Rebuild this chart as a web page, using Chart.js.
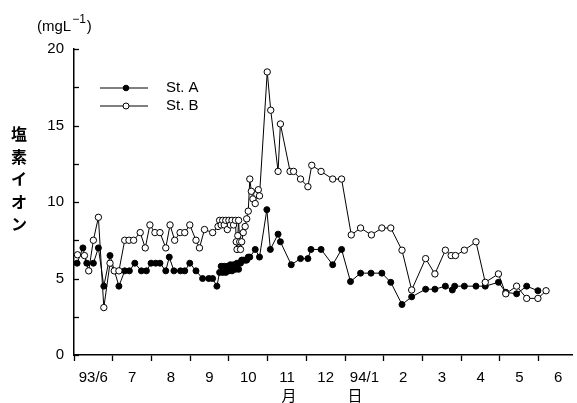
<!DOCTYPE html>
<html>
<head>
<meta charset="utf-8">
<script src="https://cdn.jsdelivr.net/npm/chart.js@4.4.0/dist/chart.umd.min.js"></script>
<style>
  html, body { margin: 0; padding: 0; background: #fff; }
  #wrap { width: 577px; height: 403px; }
</style>
</head>
<body>
<div id="wrap"><canvas id="myChart" width="577" height="403"></canvas></div>
<script>
// month labels, placed in the middle of each month
var monthLabels = ["93/6", "7", "8", "9", "10", "11", "12", "94/1", "2", "3", "4", "5", "6"];

// x = months after 1 June 1993, y = mg/L
var stAx = [0.08, 0.23, 0.33, 0.50, 0.63, 0.77, 0.93, 1.16, 1.31, 1.43, 1.57, 1.74, 1.87, 1.99,
  2.11, 2.22, 2.37, 2.46, 2.58, 2.75, 2.86, 2.99, 3.15, 3.32, 3.48, 3.58, 3.69,
  3.76, 3.80, 3.84, 3.88, 3.92, 3.96, 4.00, 4.04, 4.08, 4.12, 4.17, 4.21, 4.25, 4.30,
  4.33, 4.37, 4.42, 4.46, 4.50, 4.54, 4.68, 4.79, 4.98, 5.07, 5.27, 5.33, 5.61, 5.85,
  6.04, 6.12, 6.38, 6.68, 6.91, 7.14, 7.40, 7.67, 7.95, 8.18, 8.47, 8.72, 9.08, 9.32,
  9.59, 9.77, 9.83, 10.08, 10.38, 10.62, 10.96, 11.15, 11.43, 11.69, 11.98];
var stAy = [6.0, 7.0, 6.0, 6.0, 7.0, 4.5, 6.5, 4.5, 5.5, 5.5, 6.0, 5.5, 5.5, 6.0,
  6.0, 6.0, 5.5, 6.4, 5.5, 5.5, 5.5, 6.0, 5.5, 5.0, 5.0, 5.0, 4.5,
  5.4, 5.8, 5.4, 5.8, 5.4, 5.8, 5.5, 5.9, 5.5, 5.9, 5.6, 6.0, 5.6, 6.0,
  6.2, 6.2, 6.2, 6.2, 6.4, 6.4, 6.9, 6.4, 9.5, 6.9, 7.9, 7.4, 5.9, 6.3,
  6.3, 6.9, 6.9, 5.9, 6.9, 4.8, 5.35, 5.35, 5.35, 4.75, 3.3, 3.8, 4.3, 4.3,
  4.5, 4.25, 4.5, 4.5, 4.5, 4.5, 4.75, 4.1, 4.0, 4.5, 4.2];

var stBx = [0.09, 0.27, 0.38, 0.50, 0.63, 0.77, 0.93, 1.04, 1.16, 1.31, 1.42, 1.54, 1.71, 1.84,
  1.96, 2.09, 2.22, 2.37, 2.48, 2.60, 2.74, 2.86, 2.99, 3.15, 3.24, 3.37, 3.58,
  3.72, 3.76, 3.80, 3.84, 3.88, 3.92, 3.96, 4.00, 4.04, 4.08, 4.12, 4.17, 4.19, 4.21,
  4.23, 4.25, 4.28, 4.30, 4.33, 4.37, 4.42, 4.46, 4.50, 4.54, 4.58, 4.62, 4.68, 4.72,
  4.76, 4.79, 4.99, 5.08, 5.27, 5.33, 5.58, 5.67, 5.85, 6.04, 6.14, 6.38, 6.68, 6.91,
  7.16, 7.40, 7.68, 7.95, 8.18, 8.47, 8.72, 9.08, 9.32, 9.59, 9.74, 9.85, 10.08, 10.38,
  10.62, 10.96, 11.15, 11.43, 11.69, 11.98, 12.19];
var stBy = [6.55, 6.5, 5.5, 7.5, 9.0, 3.1, 6.0, 5.5, 5.5, 7.5, 7.5, 7.5, 8.0, 7.0,
  8.5, 8.0, 8.0, 7.0, 8.5, 7.5, 8.0, 8.0, 8.5, 7.5, 7.0, 8.2, 8.0,
  8.4, 8.8, 8.5, 8.8, 8.5, 8.8, 8.2, 8.8, 8.5, 8.8, 8.5, 8.8, 7.4, 6.9,
  7.8, 8.8, 7.4, 6.9, 7.4, 8.0, 8.4, 8.9, 9.4, 11.5, 10.7, 10.2, 9.9, 10.5,
  10.8, 10.4, 18.5, 16.0, 12.0, 15.1, 12.0, 12.0, 11.5, 11.0, 12.4, 12.0, 11.5, 11.5,
  7.85, 8.3, 7.85, 8.3, 8.3, 6.85, 4.25, 6.3, 5.3, 6.85, 6.5, 6.5, 6.85, 7.4,
  4.75, 5.3, 4.0, 4.5, 3.7, 3.7, 4.2];

function pts(xs, ys) {
  return xs.map(function (x, i) { return {x: x, y: ys[i]}; });
}

var font = "'Liberation Sans', Arial, sans-serif";

// inside y ticks, legend, unit and axis titles
var extras = {
  id: "extras",
  afterDraw: function (chart) {
    var ctx = chart.ctx;
    var xs = chart.scales.x, ys = chart.scales.y;
    ctx.save();
    ctx.strokeStyle = "#000";
    ctx.lineWidth = 1.3;
    for (var v = 0; v <= 20; v += 2.5) {
      var py = Math.round(ys.getPixelForValue(v)) + 0.5;
      ctx.beginPath();
      ctx.moveTo(xs.left, py);
      ctx.lineTo(xs.left + 5, py);
      ctx.stroke();
    }

    // legend
    var rows = [["St. A", "#000", 2.8], ["St. B", "#fff", 3]];
    rows.forEach(function (r, i) {
      var y = 88 + i * 18;
      ctx.lineWidth = 1;
      ctx.beginPath();
      ctx.moveTo(100, y);
      ctx.lineTo(148, y);
      ctx.stroke();
      ctx.beginPath();
      ctx.arc(126, y, r[2], 0, Math.PI * 2);
      ctx.fillStyle = r[1];
      ctx.fill();
      ctx.stroke();
      ctx.fillStyle = "#000";
      ctx.font = "15px " + font;
      ctx.textBaseline = "middle";
      ctx.textAlign = "left";
      ctx.fillText(r[0], 166, y);
    });

    // unit
    ctx.font = "15px " + font;
    ctx.textBaseline = "alphabetic";
    ctx.fillText("(mgL", 37, 31);
    var w = ctx.measureText("(mgL").width;
    ctx.font = "12px " + font;
    ctx.fillText("\u22121", 37 + w + 1, 23);
    var w2 = ctx.measureText("\u22121").width;
    ctx.font = "15px " + font;
    ctx.fillText(")", 37 + w + w2 + 2, 31);

    // vertical y title
    ctx.font = "bold 16px 'Noto Sans CJK JP', sans-serif";
    ctx.textAlign = "center";
    ctx.textBaseline = "middle";
    var chars = ["塩", "素", "イ", "オ", "ン"];
    chars.forEach(function (c, i) {
      ctx.fillText(c, 19, 134 + i * 22.5);
    });

    // x title
    ctx.font = "15px 'Noto Sans CJK JP', sans-serif";
    ctx.fillText("月", 289, 395);
    ctx.fillText("日", 355, 395);
    ctx.restore();
  }
};

new Chart("myChart", {
  type: "line",
  data: {
    datasets: [{
      label: "St. B",
      data: pts(stBx, stBy),
      borderColor: "#000",
      borderWidth: 1,
      pointRadius: 3.2,
      pointBackgroundColor: "#fff",
      pointBorderColor: "#000",
      pointBorderWidth: 1,
      tension: 0
    }, {
      label: "St. A",
      data: pts(stAx, stAy),
      borderColor: "#000",
      borderWidth: 1,
      pointRadius: 3,
      pointBackgroundColor: "#000",
      pointBorderColor: "#000",
      pointBorderWidth: 1,
      tension: 0
    }]
  },
  options: {
    responsive: false,
    animation: false,
    layout: {padding: {top: 49, right: 0, left: 0, bottom: 0}},
    plugins: {legend: {display: false}, tooltip: {enabled: false}},
    scales: {
      x: {
        type: "linear",
        min: 0,
        max: 12.86,
        afterBuildTicks: function (scale) {
          var t = [];
          for (var i = 0; i <= 25; i++) t.push({value: i / 2});
          scale.ticks = t;
        },
        afterFit: function (scale) { scale.height = 48; },
        border: {color: "#000", width: 1.5},
        grid: {
          drawOnChartArea: false,
          drawTicks: true,
          tickLength: 6,
          tickWidth: 1.3,
          tickColor: function (c) {
            return (c.tick && c.tick.value % 1 === 0) ? "#000" : "rgba(0,0,0,0)";
          }
        },
        ticks: {
          autoSkip: false,
          maxRotation: 0,
          padding: 8,
          color: "#000",
          font: {family: font, size: 15},
          callback: function (value) {
            if (value % 1 === 0) return "";
            return monthLabels[Math.floor(value)];
          }
        }
      },
      y: {
        min: 0,
        max: 20,
        afterFit: function (scale) { scale.width = 74; },
        border: {color: "#000", width: 1.5},
        grid: {drawOnChartArea: false, drawTicks: false},
        ticks: {
          stepSize: 2.5,
          padding: 10,
          color: "#000",
          font: {family: font, size: 15},
          callback: function (value) {
            return value % 5 === 0 ? value : "";
          }
        }
      }
    }
  },
  plugins: [extras]
});
</script>
</body>
</html>
